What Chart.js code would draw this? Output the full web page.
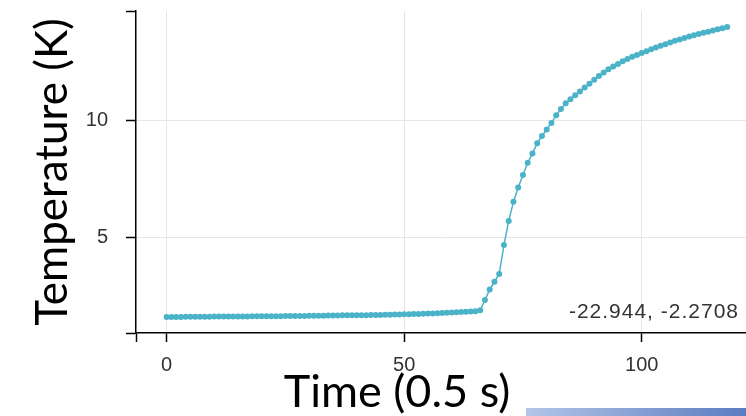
<!DOCTYPE html>
<html lang="en">
<head>
    <meta charset="UTF-8">
    <title>Temperature vs Time</title>
    <script src="https://cdn.jsdelivr.net/npm/chart.js"></script>
    <style>
        body {
            margin: 0;
            padding: 0;
            background: #fff;
        }
        .wrap {
            position: relative;
            width: 746px;
            height: 416px;
            overflow: hidden;
        }
        .bar {
            position: absolute;
            left: 526px;
            top: 408px;
            width: 220px;
            height: 8px;
            background: linear-gradient(to right, #b3c6e7, #5b7cc0);
        }
    </style>
</head>
<body>
    <div class="wrap">
        <canvas id="temp-chart" width="750" height="416"></canvas>
        <div class="bar"></div>
    </div>

    <script>
        // time steps (0.5 s each)
        const timeSteps = [
            0, 1, 2, 3, 4, 5, 6, 7, 8, 9, 10, 11, 12, 13, 14, 15, 16, 17, 18, 19,
            20, 21, 22, 23, 24, 25, 26, 27, 28, 29, 30, 31, 32, 33, 34, 35, 36, 37, 38, 39,
            40, 41, 42, 43, 44, 45, 46, 47, 48, 49, 50, 51, 52, 53, 54, 55, 56, 57, 58, 59,
            60, 61, 62, 63, 64, 65, 66, 67, 68, 69, 70, 71, 72, 73, 74, 75, 76, 77, 78, 79,
            80, 81, 82, 83, 84, 85, 86, 87, 88, 89, 90, 91, 92, 93, 94, 95, 96, 97, 98, 99,
            100, 101, 102, 103, 104, 105, 106, 107, 108, 109, 110, 111, 112, 113, 114, 115, 116, 117, 118
        ];
        // temperature readings (K)
        const temperatures = [
            1.63, 1.63, 1.63, 1.63, 1.64, 1.64, 1.64, 1.64, 1.64, 1.64,
            1.65, 1.65, 1.65, 1.65, 1.65, 1.65, 1.65, 1.65, 1.66, 1.66,
            1.66, 1.66, 1.66, 1.66, 1.66, 1.67, 1.67, 1.67, 1.67, 1.67,
            1.68, 1.68, 1.68, 1.68, 1.69, 1.69, 1.69, 1.70, 1.70, 1.70,
            1.71, 1.71, 1.71, 1.72, 1.72, 1.72, 1.73, 1.73, 1.74, 1.74,
            1.75, 1.75, 1.76, 1.76, 1.77, 1.78, 1.78, 1.79, 1.80, 1.81,
            1.82, 1.83, 1.84, 1.85, 1.86, 1.88, 1.92,
            2.35, 2.80, 3.13, 3.46, 4.69, 5.72, 6.53, 7.14, 7.67, 8.19,
            8.59, 9.02, 9.33, 9.61, 9.89, 10.21, 10.48, 10.72, 10.90, 11.07,
            11.23, 11.40, 11.56, 11.72, 11.88, 12.03, 12.17, 12.29, 12.40, 12.51,
            12.61, 12.70, 12.78, 12.86, 12.94, 13.02, 13.10, 13.17, 13.24, 13.31,
            13.38, 13.44, 13.50, 13.56, 13.62, 13.67, 13.72, 13.77, 13.82, 13.87,
            13.92, 13.97
        ];
        const xTicks = [0, 50, 100];
        const yTicks = [5, 10];
        const xRange = [-6.46, 121.96];
        const yRange = [0.95, 14.65];
        const cursorText = '-22.944, -2.2708';

        const lineColor = 'rgb(75, 179, 199)';

        // extra text drawn on the canvas: x title and the cursor readout
        const overlayText = {
            id: 'overlayText',
            afterDraw(chart) {
                const c = chart.ctx;
                c.save();
                c.fillStyle = '#000';
                c.font = '45px Lato';
                c.textAlign = 'center';
                c.textBaseline = 'alphabetic';
                c.fillText('Time (0.5 s)', 397, 407);
                c.fillStyle = '#333';
                c.font = '21px "Liberation Sans"';
                c.letterSpacing = '1px';
                c.textAlign = 'right';
                c.textBaseline = 'middle';
                c.fillText(cursorText, 739, 312);
                c.restore();
            }
        };

        const gridColor = ctx => {
            const v = ctx.tick ? ctx.tick.value : null;
            return (xTicks.includes(v) || yTicks.includes(v)) ? '#e6e6e6' : 'rgba(0,0,0,0)';
        };

        const ctx = document.getElementById('temp-chart').getContext('2d');
        new Chart(ctx, {
            type: 'line',
            data: {
                labels: timeSteps,
                datasets: [{
                    data: temperatures.map((t, i) => ({ x: timeSteps[i], y: t })),
                    borderColor: lineColor,
                    backgroundColor: lineColor,
                    borderWidth: 1.5,
                    pointRadius: 3,
                    pointBorderWidth: 0,
                    tension: 0
                }]
            },
            options: {
                responsive: false,
                animation: false,
                layout: { padding: { top: 11, right: 0, left: 0, bottom: 0 } },
                plugins: {
                    legend: { display: false },
                    tooltip: { enabled: false }
                },
                scales: {
                    x: {
                        type: 'linear',
                        min: xRange[0],
                        max: xRange[1],
                        afterBuildTicks: s => {
                            s.ticks = [xRange[0]].concat(xTicks).map(v => ({ value: v }));
                        },
                        afterFit: s => {
                            s.height = 83;
                            s.paddingLeft = 0;
                            s.paddingRight = 0;
                        },
                        ticks: {
                            callback: v => xTicks.includes(v) ? v : '',
                            color: '#333',
                            font: { family: 'Liberation Sans', size: 20 },
                            padding: 11,
                            maxRotation: 0,
                            autoSkip: false
                        },
                        grid: {
                            color: gridColor,
                            tickColor: '#000',
                            tickLength: 9,
                            tickWidth: 1.5
                        },
                        border: { color: '#000', width: 1.5 }
                    },
                    y: {
                        min: yRange[0],
                        max: yRange[1],
                        afterBuildTicks: s => {
                            s.ticks = [yRange[0]].concat(yTicks, [yRange[1]]).map(v => ({ value: v }));
                        },
                        afterFit: s => {
                            s.width = 136;
                            s.paddingTop = 0;
                            s.paddingBottom = 0;
                        },
                        ticks: {
                            callback: v => yTicks.includes(v) ? v : '',
                            color: '#333',
                            font: { family: 'Liberation Sans', size: 20 },
                            padding: 18,
                            autoSkip: false
                        },
                        grid: {
                            color: gridColor,
                            tickColor: '#000',
                            tickLength: 10,
                            tickWidth: 1.5
                        },
                        border: { color: '#000', width: 1.5 },
                        title: {
                            display: true,
                            text: 'Temperature (K)',
                            color: '#000',
                            font: { family: 'Lato', size: 44 },
                            padding: { top: 26, bottom: 0 }
                        }
                    }
                }
            },
            plugins: [overlayText]
        });
    </script>
</body>
</html>
